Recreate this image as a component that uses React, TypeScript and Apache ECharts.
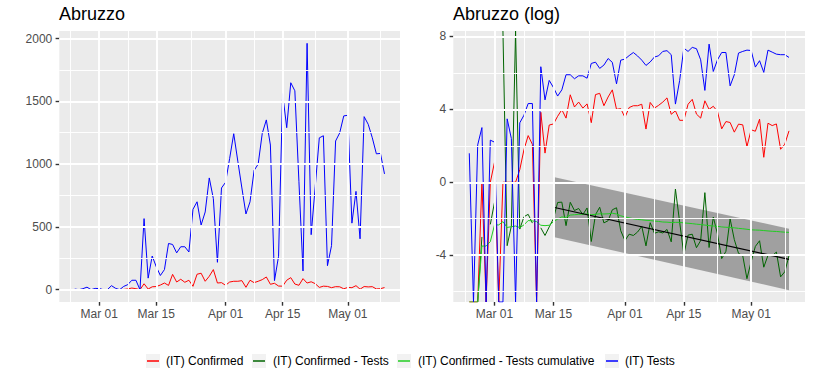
import React, { useEffect, useRef } from "react";
import * as echarts from "echarts";

// ---------- data (day index 0 = Mar 01, first observation Feb 24 = -6) ----------
const NI = -Infinity; // log(0): drawn at panel bottom (ggplot -Inf)
const PI = Infinity; // drawn at panel top (ggplot Inf)
const firstDay = -6;

const xTickDays = [0, 14, 31, 45, 61];
const xTickLabels = ["Mar 01", "Mar 15", "Apr 01", "Apr 15", "May 01"];
const xMinorDays = [-7, 7, 22.5, 38, 53, 69];
const linTicks = [0, 500, 1000, 1500, 2000];
const linMinor = [250, 750, 1250, 1750];
const logTicks = [-4, 0, 4, 8];
const logMinor = [-6, -2, 2, 6];

const seriesNames = [
  "(IT) Confirmed",
  "(IT) Confirmed - Tests",
  "(IT) Confirmed - Tests cumulative",
  "(IT) Tests",
];
const seriesColors = ["#FF0000", "#006400", "#22CC22", "#0000FF"];

// left panel (linear)
const confirmed = [
  0, 0, 0, 1, 0, 1,
  3, 0, 1, 1, 1, 1, 2, 6, 13, 8, 0,
  47, 5, 23, 25, 37, 53, 34, 122, 61, 83,
  59, 75, 27, 123, 131, 67, 107, 160, 53, 56,
  35, 61, 67, 67, 72, 19, 75, 56, 67, 80,
  101, 43, 51, 29, 28, 75, 96, 45, 35, 88,
  53, 63, 48, 18, 28, 26, 16, 24, 23, 7,
  18, 16, 32, 4, 25, 22, 24, 6, 8, 17,
];
const tests = [
  5, 0, 8, 20, 0, 10,
  9, 0, 0, 32, 11, 0, 26, 40, 75, 75, 0,
  566, 92, 268, 182, 113, 160, 368, 360, 293, 342,
  342, 300, 640, 700, 515, 619, 890, 725, 218, 810,
  855, 1045, 1242, 1024, 810, 603, 700, 950, 1000, 1245,
  1352, 1152, 72, 266, 1562, 1290, 1648, 1584, 860, 149,
  1962, 438, 820, 1209, 1226, 191, 351, 1184, 1248, 1384,
  1389, 530, 783, 405, 1378, 1317, 1210, 1082, 1085, 922,
];

// right panel (log)
const logConfirmed = [
  NI, NI, NI, 0, NI, 0,
  1.1, NI, 0, 0, 0, 0, 0.69, 1.79, 2.56, 2.08, NI,
  3.84, 1.6, 3.14, 3.2, 3.62, 3.98, 3.52, 4.8, 4.13, 4.4,
  4.07, 4.3, 3.27, 4.81, 4.88, 4.2, 4.68, 5.07, 4.0, 4.04,
  3.56, 4.1, 4.2, 4.2, 4.28, 2.92, 4.38, 4.07, 4.22, 4.4,
  4.63, 3.73, 3.92, 3.4, 3.4, 4.28, 4.55, 3.74, 3.52, 4.47,
  4.0, 4.17, 3.88, 2.93, 3.33, 3.28, 2.75, 3.19, 3.15, 1.96,
  2.88, 2.8, 3.46, 1.37, 3.24, 3.11, 3.2, 1.81, 2.09, 2.82,
];
const logConfirmedMinusTests = [
  NI, null, NI, -3.0, null, -2.31,
  -1.1, null, PI, -3.48, -2.4, PI, -2.57, -1.89, -1.76, -2.24, null,
  -2.5, -2.92, -2.45, -2.0, -1.11, -1.09, -2.38, -1.1, -1.55, -1.44,
  -1.77, -1.41, -3.25, -1.78, -1.37, -2.23, -2.11, -1.51, -1.4, -2.66,
  -3.2, -2.85, -2.92, -2.73, -2.42, -3.49, -2.22, -2.8, -2.72, -2.78,
  -2.59, -3.27, -0.37, -2.18, -3.96, -2.9, -2.85, -3.59, -3.2, -0.57,
  -3.58, -1.91, -2.84, -4.19, -3.79, -2.01, -3.15, -3.9, -4.03, -5.29,
  -4.35, -3.52, -3.21, -4.66, -4.01, -4.03, -3.83, -5.19, -4.91, -4.03,
];
const logConfirmedMinusTestsCum = [
  NI, NI, NI, -3.5, -3.5, -3.26,
  -2.34, -2.34, -2.16, -2.48, -2.44, -2.4, -2.49, -2.34, -2.1, -2.12, -2.16,
  -2.36, -2.38, -2.36, -2.17, -2.02, -1.9, -1.93, -1.8, -1.78, -1.76,
  -1.75, -1.74, -1.78, -1.76, -1.73, -1.74, -1.73, -1.7, -1.74, -1.84,
  -1.9, -1.95, -2.0, -2.04, -2.06, -2.09, -2.1, -2.13, -2.15, -2.18,
  -2.19, -2.21, -2.2, -2.2, -2.23, -2.25, -2.27, -2.3, -2.32, -2.35,
  -2.38, -2.4, -2.42, -2.45, -2.47, -2.48, -2.5, -2.53, -2.55, -2.58,
  -2.61, -2.62, -2.63, -2.65, -2.67, -2.69, -2.7, -2.72, -2.74, -2.75,
];
const logTests = [
  1.59, NI, 2.05, 3.0, NI, 2.31,
  2.2, NI, NI, 3.48, 2.4, NI, 3.26, 3.68, 4.32, 4.32, NI,
  6.34, 4.52, 5.59, 5.2, 4.73, 5.07, 5.9, 5.9, 5.68, 5.84,
  5.84, 5.71, 6.52, 6.59, 6.25, 6.43, 6.79, 6.58, 5.4, 6.7,
  6.76, 6.95, 7.12, 6.93, 6.7, 6.41, 6.6, 6.87, 6.94, 7.18,
  7.22, 7.0, 4.29, 5.58, 7.36, 7.18, 7.4, 7.33, 6.72, 5.04,
  7.58, 6.08, 6.72, 7.12, 7.12, 5.29, 5.9, 7.09, 7.18, 7.25,
  7.23, 6.32, 6.67, 6.03, 7.25, 7.14, 7.03, 7.0, 7.0, 6.85,
];

// linear fit on log(Confirmed - Tests) from Mar 15 with its band
const fitDays = [14, 70];
const fitLine = [-1.37, -4.23];
const bandLower = [-3.0, -5.92];
const bandUpper = [0.29, -2.55];

// ---------- layout ----------
const X_MIN = -9.8, X_MAX = 73.8;
const LIN_MIN = -98.1, LIN_MAX = 2060.1;
const LOG_MIN = -6.57, LOG_MAX = 8.3;
const FONT = "Liberation Sans";
const legendKeyX = [146, 252, 397, 605];
const legendTextX = [166, 273, 418, 625];
const LEGEND_Y = 361;

function toPairs(vals: (number | null)[], lo: number, hi: number) {
  return vals.map((v, i) => [
    i + firstDay,
    v === null ? null : v === -Infinity ? lo : v === Infinity ? hi : v,
  ]);
}

function gridLineSeries(gi: number, hMajor: number[], hMinor: number[]) {
  const major = { color: "#FFFFFF", width: 1.9, type: "solid" as const };
  const minor = { color: "#FFFFFF", width: 0.95, type: "solid" as const };
  return {
    type: "line",
    xAxisIndex: gi,
    yAxisIndex: gi,
    data: [],
    symbol: "none",
    silent: true,
    z: 1,
    markLine: {
      silent: true,
      symbol: ["none", "none"],
      label: { show: false },
      emphasis: { disabled: true },
      animation: false,
      data: [
        ...xMinorDays.map((d) => ({ xAxis: d, lineStyle: minor })),
        ...hMinor.map((v) => ({ yAxis: v, lineStyle: minor })),
        ...xTickDays.map((d) => ({ xAxis: d, lineStyle: major })),
        ...hMajor.map((v) => ({ yAxis: v, lineStyle: major })),
      ],
    },
  };
}

function xAxisFor(gi: number) {
  return {
    type: "value",
    gridIndex: gi,
    min: X_MIN,
    max: X_MAX,
    splitLine: { show: false },
    axisLine: { show: false, onZero: false },
    axisTick: {
      show: true,
      customValues: xTickDays,
      length: 3.7,
      lineStyle: { color: "#333333", width: 1.4 },
    },
    axisLabel: {
      customValues: xTickDays,
      formatter: (v: number) => xTickLabels[xTickDays.indexOf(v)] ?? "",
      color: "#4D4D4D",
      fontSize: 12,
      fontFamily: FONT,
      margin: 6,
    },
  };
}

function yAxisFor(gi: number, min: number, max: number, ticks: number[]) {
  return {
    type: "value",
    gridIndex: gi,
    min,
    max,
    splitLine: { show: false },
    axisLine: { show: false, onZero: false },
    axisTick: {
      show: true,
      customValues: ticks,
      length: 3.7,
      lineStyle: { color: "#333333", width: 1.4 },
    },
    axisLabel: {
      customValues: ticks,
      formatter: (v: number) => String(v),
      color: "#4D4D4D",
      fontSize: 12,
      fontFamily: FONT,
      margin: 7,
    },
  };
}

function dataLine(gi: number, name: string, color: string, data: any[], z = 3) {
  return {
    type: "line",
    name,
    xAxisIndex: gi,
    yAxisIndex: gi,
    data,
    symbol: "none",
    showSymbol: false,
    clip: true,
    connectNulls: false,
    silent: true,
    z,
    lineStyle: { color, width: 1 },
  };
}

export default function App() {
  const ref = useRef<HTMLDivElement>(null);
  useEffect(() => {
    if (!ref.current) return;
    const chart = echarts.init(ref.current, undefined, { renderer: "svg" });
    const legendGraphics = seriesNames.flatMap((name, i) => [
      {
        type: "rect",
        shape: { x: legendKeyX[i], y: LEGEND_Y - 7, width: 14, height: 14 },
        style: { fill: "#F2F2F2" },
      },
      {
        type: "line",
        shape: { x1: legendKeyX[i] + 1, y1: LEGEND_Y, x2: legendKeyX[i] + 13, y2: LEGEND_Y },
        style: { stroke: seriesColors[i], lineWidth: 1.5 },
      },
      {
        type: "text",
        x: legendTextX[i],
        y: LEGEND_Y,
        style: {
          text: name,
          fill: "#000000",
          fontSize: 12,
          fontFamily: FONT,
          verticalAlign: "middle",
          textVerticalAlign: "middle",
        },
      },
    ]);
    chart.setOption({
      animation: false,
      backgroundColor: "#FFFFFF",
      title: [
        {
          text: "Abruzzo",
          left: 59,
          top: 5,
          padding: 0,
          textStyle: { fontSize: 18, fontWeight: "normal", color: "#000", fontFamily: FONT },
        },
        {
          text: "Abruzzo (log)",
          left: 453,
          top: 5,
          padding: 0,
          textStyle: { fontSize: 18, fontWeight: "normal", color: "#000", fontFamily: FONT },
        },
      ],
      grid: [
        { left: 59.3, top: 31, width: 340.7, height: 271, show: true, backgroundColor: "#EBEBEB", borderWidth: 0 },
        { left: 453.3, top: 31, width: 351.7, height: 271, show: true, backgroundColor: "#EBEBEB", borderWidth: 0 },
      ],
      xAxis: [xAxisFor(0), xAxisFor(1)],
      yAxis: [
        yAxisFor(0, LIN_MIN, LIN_MAX, linTicks),
        yAxisFor(1, LOG_MIN, LOG_MAX, logTicks),
      ],
      graphic: legendGraphics,
      series: [
        gridLineSeries(0, linTicks, linMinor),
        gridLineSeries(1, logTicks, logMinor),
        dataLine(0, seriesNames[0], seriesColors[0], toPairs(confirmed, LIN_MIN, LIN_MAX)),
        dataLine(0, seriesNames[3], seriesColors[3], toPairs(tests, LIN_MIN, LIN_MAX)),
        {
          type: "custom",
          xAxisIndex: 1,
          yAxisIndex: 1,
          data: [[fitDays[0], fitLine[0]]],
          silent: true,
          z: 2,
          renderItem: (_params: any, api: any) => {
            const up = fitDays.map((d, i) => api.coord([d, bandUpper[i]]));
            const lo = fitDays.map((d, i) => api.coord([d, bandLower[i]])).reverse();
            return {
              type: "polygon",
              shape: { points: [...up, ...lo] },
              style: { fill: "rgba(110,110,110,0.6)" },
            };
          },
        },
        dataLine(1, seriesNames[0], seriesColors[0], toPairs(logConfirmed, LOG_MIN, LOG_MAX)),
        dataLine(1, seriesNames[1], seriesColors[1], toPairs(logConfirmedMinusTests, LOG_MIN, LOG_MAX)),
        dataLine(1, seriesNames[2], seriesColors[2], toPairs(logConfirmedMinusTestsCum, LOG_MIN, LOG_MAX)),
        dataLine(1, seriesNames[3], seriesColors[3], toPairs(logTests, LOG_MIN, LOG_MAX)),
        {
          type: "line",
          xAxisIndex: 1,
          yAxisIndex: 1,
          data: fitDays.map((d, i) => [d, fitLine[i]]),
          symbol: "none",
          silent: true,
          lineStyle: { color: "#000000", width: 1.2 },
          z: 4,
        },
      ],
    });
    return () => chart.dispose();
  }, []);
  return (
    <div
      ref={ref}
      style={{ position: "absolute", left: 0, top: 0, width: 814, height: 380 }}
    />
  );
}
